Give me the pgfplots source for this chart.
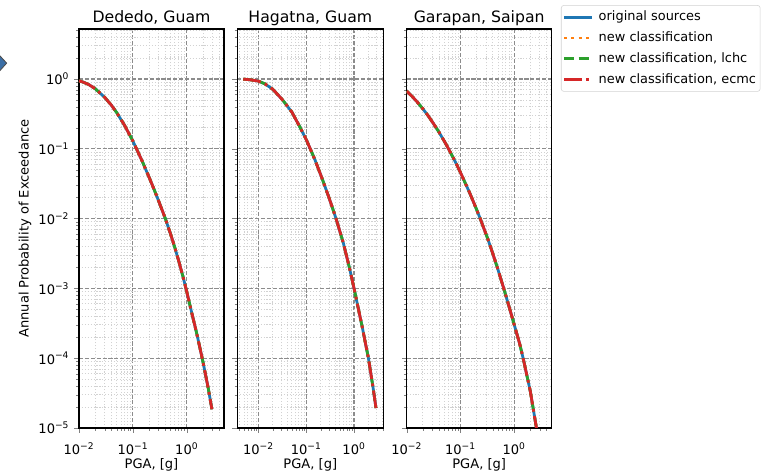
\documentclass[border=0pt]{standalone}
\usepackage{fontspec}
\setmainfont{DejaVu Sans}
\usepackage{pgfplots}
\pgfplotsset{compat=1.18}
\usepackage{pgfplotstable}

\definecolor{tabblue}{HTML}{1F77B4}
\definecolor{taborange}{HTML}{FF7F0E}
\definecolor{tabgreen}{HTML}{2CA02C}
\definecolor{tabred}{HTML}{D62728}

% hazard curves, PGA [g] vs annual probability of exceedance
\pgfplotstableread{
x y
0.01 0.94
0.012 0.90
0.015 0.836
0.02 0.726
0.03 0.545
0.04 0.42
0.05 0.33
0.07 0.217
0.1 0.129
0.15 0.0655
0.2 0.039
0.25 0.0256
0.3 0.0179
0.4 0.0100
0.5 0.0060
0.6 0.00384
0.7 0.00255
0.85 0.00147
1.0 0.00089
1.2 0.00049
1.5 0.00024
1.75 0.000141
2.0 0.000088
2.5 0.000037
2.92 0.0000186
}\dededo

\pgfplotstableread{
x y
0.0048 0.995
0.007 0.97
0.01 0.93
0.0135 0.855
0.016 0.79
0.02 0.71
0.03 0.526
0.036 0.45
0.05 0.335
0.075 0.2
0.1 0.135
0.121 0.1
0.15 0.071
0.213 0.038
0.3 0.0198
0.42 0.01
0.6 0.0044
0.8 0.00198
1.0 0.001
1.5 0.00027
2.0 0.0001
2.5 0.000038
2.88 0.0000193
}\hagatna

\pgfplotstableread{
x y
0.01 0.67
0.0126 0.564
0.0158 0.465
0.02 0.374
0.025 0.298
0.0316 0.229
0.04 0.1725
0.05 0.129
0.06 0.1
0.08 0.0655
0.1 0.0459
0.15 0.023
0.2 0.0135
0.234 0.00995
0.316 0.00537
0.4 0.00317
0.5 0.00186
0.64 0.001
0.8 0.000556
1.0 0.000305
1.26 0.000164
1.47 0.0001
2.0 0.0000337
2.6 0.00001
2.94 0.0000052
}\garapan

\pgfplotsset{
  every axis/.append style={
    xmode=log, ymode=log,
    scale only axis, height=287.28pt,
    anchor=south west,
    ymin=1e-5, ymax=5.2,
    axis line style={line width=0.8pt},
    tick pos=left, tick align=outside,
    major tick length=3.5pt, minor tick length=2pt,
    grid=both,
    major grid style={gray!90, line width=0.8pt, dash pattern=on 2.96pt off 1.28pt},
    minor grid style={gray!35, line width=0.6pt, dash pattern=on 0.8pt off 1.3pt},
    xtick={0.01,0.1,1},
    xticklabels={10\textsuperscript{−2},10\textsuperscript{−1},10\textsuperscript{0}},
    minor xtick={0.004,0.005,0.006,0.007,0.008,0.009,0.02,0.03,0.04,0.05,0.06,0.07,0.08,0.09,0.2,0.3,0.4,0.5,0.6,0.7,0.8,0.9,2,3,4},
    ytick={1e-5,1e-4,1e-3,1e-2,1e-1,1},
    minor ytick={2e-5,3e-5,4e-5,5e-5,6e-5,7e-5,8e-5,9e-5,2e-4,3e-4,4e-4,5e-4,6e-4,7e-4,8e-4,9e-4,2e-3,3e-3,4e-3,5e-3,6e-3,7e-3,8e-3,9e-3,0.02,0.03,0.04,0.05,0.06,0.07,0.08,0.09,0.2,0.3,0.4,0.5,0.6,0.7,0.8,0.9,2,3,4,5},
    xticklabel style={font=\fontsize{9.4}{11}\selectfont, yshift=-3.5pt},
    yticklabel style={font=\fontsize{9.4}{11}\selectfont},
    title style={font=\fontsize{11.3}{13}\selectfont, anchor=base, yshift=-1pt},
    xlabel={PGA, [g]},
    xlabel style={font=\fontsize{9.4}{11}\selectfont, at={(axis description cs:0.5,0)}, anchor=base, yshift=-29.5pt},
    ylabel style={font=\fontsize{9.4}{11}\selectfont},
  },
}

\begin{document}
\begin{tikzpicture}
\useasboundingbox (0,0) rectangle (553.68pt,341.28pt);
% stray marker at the left edge of the reference
\filldraw[fill={rgb,255:red,59;green,110;blue,165}, draw=black!70, line width=0.6pt]
  (-4.8pt,295.8pt) -- (0pt,301pt) -- (4.8pt,295.8pt) -- (0pt,290.5pt) -- cycle;

\begin{axis}[at={(56.88pt,33.12pt)}, width=104.4pt,
  xmin=0.01, xmax=4.9,
  title={Dededo, Guam},
  yticklabels={10\textsuperscript{−5},10\textsuperscript{−4},10\textsuperscript{−3},10\textsuperscript{−2},10\textsuperscript{−1},10\textsuperscript{0}},
  ylabel={Annual Probability of Exceedance},
  ylabel style={at={(axis description cs:-0.372,0.5)}, anchor=center},
]
\addplot[tabblue, line width=2pt, solid] table {\dededo};
\addplot[taborange, line width=2pt, dash pattern=on 2pt off 3.3pt] table {\dededo};
\addplot[tabgreen, line width=2pt, dash pattern=on 7.4pt off 3.2pt] table {\dededo};
\addplot[tabred, line width=2pt, dash pattern=on 12.8pt off 3.2pt on 2pt off 3.2pt] table {\dededo};
\end{axis}

\begin{axis}[at={(170.86pt,33.12pt)}, width=105.12pt,
  xmin=0.0036, xmax=4.1,
  title={Hagatna, Guam},
  yticklabels={},
]
\addplot[tabblue, line width=2pt, solid] table {\hagatna};
\addplot[taborange, line width=2pt, dash pattern=on 2pt off 3.3pt] table {\hagatna};
\addplot[tabgreen, line width=2pt, dash pattern=on 7.4pt off 3.2pt] table {\hagatna};
\addplot[tabred, line width=2pt, dash pattern=on 12.8pt off 3.2pt on 2pt off 3.2pt] table {\hagatna};
\end{axis}

\begin{axis}[at={(292.82pt,33.12pt)}, width=104.4pt,
  xmin=0.01, xmax=5,
  title={Garapan, Saipan},
  yticklabels={},
  legend style={at={(1.064,1.06)}, anchor=north west,
    draw=gray!35, rounded corners=2pt, inner sep=1pt,
    font=\fontsize{9.3}{11}\selectfont, column sep=2pt,
    nodes={inner xsep=2pt, inner ysep=2.25pt, text height=8pt, text depth=2.5pt}},
  legend cell align=left,
  legend image code/.code={\draw[#1] (0pt,0pt) -- (20pt,0pt);},
]
\addplot[tabblue, line width=2pt, solid] table {\garapan};
\addlegendentry{original sources}
\addplot[taborange, line width=2pt, dash pattern=on 2pt off 3.3pt] table {\garapan};
\addlegendentry{new classification}
\addplot[tabgreen, line width=2pt, dash pattern=on 7.4pt off 3.2pt] table {\garapan};
\addlegendentry{new classification, lchc}
\addplot[tabred, line width=2pt, dash pattern=on 12.8pt off 3.2pt on 2pt off 3.2pt] table {\garapan};
\addlegendentry{new classification, ecmc}
\end{axis}
\end{tikzpicture}
\end{document}
